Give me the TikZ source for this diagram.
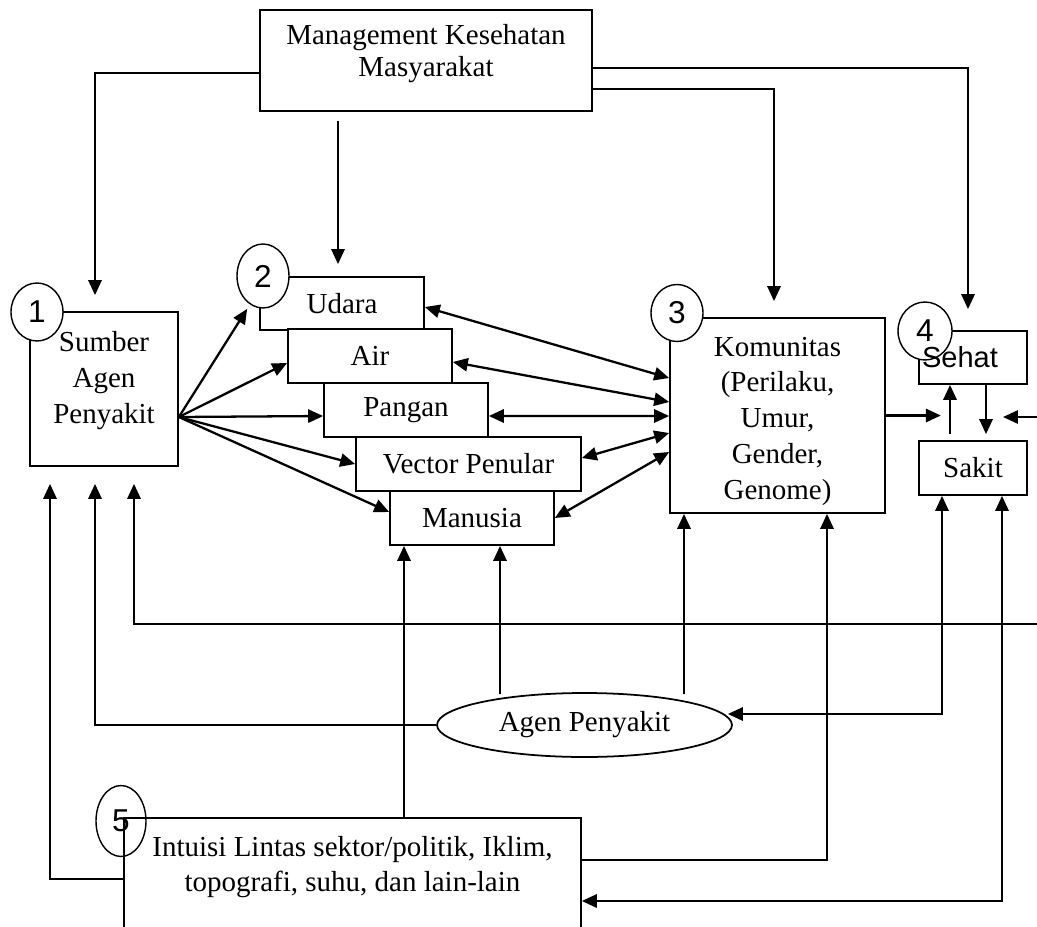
\documentclass[tikz,border=0pt]{standalone}
\usepackage{fontspec}
\setmainfont{Liberation Serif}
\newfontfamily\arialfont{Liberation Sans}
\usepackage{tikz}
\usetikzlibrary{arrows.meta,positioning,shapes.geometric,calc}
\definecolor{ink}{RGB}{0,0,0}

\begin{document}
\begin{tikzpicture}[x=0.02cm,y=-0.02cm,
    box/.style={draw=ink,line width=1pt,fill=white,inner sep=0pt,align=center,
      font=\fontsize{16.5}{20.4}\selectfont},
    numcirc/.style={ellipse,draw=ink,line width=0.8pt,fill=white,inner sep=0pt,
      font=\arialfont\fontsize{18}{20}\selectfont},
    arr/.style={draw=ink,line width=1.3pt,-{Triangle[length=8.5pt,width=7.5pt]}},
    darr/.style={arr,{Triangle[length=8.5pt,width=7.5pt]}-{Triangle[length=8.5pt,width=7.5pt]}}]
  \clip (0,0) rectangle (1037,926);

  % boxes
  \node[box,minimum width=6.64cm,minimum height=2.02cm,
    font=\fontsize{16.5}{18.7}\selectfont,text depth=0.4cm] (mgmt) at (426,60.5)
    {Management Kesehatan\\Masyarakat};
  \node[box,minimum width=2.96cm,minimum height=3.08cm,text depth=0.45cm] (sumber) at (104,389)
    {Sumber\\Agen\\Penyakit};
  \node[box,minimum width=3.28cm,minimum height=1.06cm] (udara) at (342,303.5) {Udara};
  \node[box,minimum width=3.28cm,minimum height=1.08cm] (air) at (370,356) {Air};
  \node[box,minimum width=3.28cm,minimum height=1.08cm] (pangan) at (406,410) {Pangan};
  \node[box,minimum width=4.5cm,minimum height=1.08cm] (vector) at (468.5,464) {Vector Penular};
  \node[box,minimum width=3.28cm,minimum height=1.08cm] (manusia) at (472,518) {Manusia};
  \node[box,minimum width=4.3cm,minimum height=3.9cm,text height=3.48cm] (kom) at (777.5,415.5)
    {Komunitas\\(Perilaku,\\Umur,\\Gender,\\Genome)};
  \node[box,minimum width=2.16cm,minimum height=1.06cm] (sehat) at (973,357.5) {};
  \node[box,minimum width=2.16cm,minimum height=1.08cm] (sakit) at (973,468) {Sakit};
  \node[box,ellipse,minimum width=5.9cm,minimum height=1.28cm] (agen) at (584.5,725) {Agen Penyakit};
  \node[box,anchor=north,minimum width=9.14cm,inner ysep=0.36cm,text depth=4cm] (intuisi) at (352.5,817)
    {Intuisi Lintas sektor/politik, Iklim,\\topografi, suhu, dan lain-lain};

  % numbers
  \node[numcirc,minimum width=1.04cm,minimum height=1.16cm] (c1) at (37,312) {1};
  \node[numcirc,minimum width=1.04cm,minimum height=1.28cm] (c2) at (263,276) {2};
  \node[numcirc,minimum width=1.04cm,minimum height=1.14cm] (c3) at (677,313) {3};
  \node[numcirc,minimum width=1.08cm,minimum height=1.16cm] (c4) at (925,331) {4};
  \node[numcirc,fill=none,minimum width=1.0cm,minimum height=1.42cm] (c5) at (121,821) {5};
  \node[inner sep=0pt,font=\arialfont\fontsize{16.5}{19}\selectfont] (sehattext) at (960,357) {Sehat};

  % from management
  \draw[arr] ($(mgmt.west)+(0,12.5)$) -| ($(sumber.north)+(-9,-16)$);
  \draw[arr] ($(udara.north |- mgmt.south)+(-4,9)$) -- ($(udara.north)+(-4,-12)$);
  \draw[arr] ($(mgmt.east)+(0,7.5)$) -| ($(sehat.north)+(-5,-21)$);
  \draw[arr] ($(mgmt.east)+(0,28.5)$) -| ($(kom.north)+(-3.5,-16)$);

  % fan out of sumber
  \coordinate (fan) at ($(sumber.east)+(0,28)$);
  \draw[arr] (fan) -- ($(udara.south west)+(-12,-22)$);
  \draw[arr] (fan) -- ($(air.west)+(0,7)$);
  \draw[arr] (fan) -- ($(pangan.west)+(0,6)$);
  \draw[arr] (fan) -- (vector.west);
  \draw[arr] (fan) -- ($(manusia.west)+(0,-6)$);

  % both ways with komunitas
  \draw[darr] ($(udara.east)+(0,3.5)$) -- ($(kom.west)+(0,-37.5)$);
  \draw[darr] ($(air.east)+(0,6)$) -- ($(kom.west)+(0,-13.5)$);
  \draw[darr] ($(pangan.east)+(0,6)$) -- ($(kom.west)+(0,0.5)$);
  \draw[darr] ($(vector.east)+(0,-6)$) -- ($(kom.west)+(0,17.5)$);
  \draw[darr] (manusia.east) -- ($(kom.west)+(0,36.5)$);

  % sehat / sakit
  \draw[arr] (kom.east) -- ($(kom.east)+(55,0)$);
  \draw[arr] ($(sakit.north)+(-23,-6)$) -- ($(sehat.south)+(-23,0)$);
  \draw[arr] ($(sehat.south)+(13,0)$) -- ($(sakit.north)+(13,-6)$);
  \coordinate (rin) at (1037,417);
  \draw[arr] (rin) -- ++(-34,0);

  % back into sumber
  \coordinate (rback) at (1037,624);
  \draw[arr] (rback) -| ($(sumber.south)+(30,17)$);
  \draw[arr] (agen.west) -| ($(sumber.south)+(-9,17)$);
  \draw[arr] ($(intuisi.north west)+(0,62)$) -| ($(sumber.south)+(-54,17)$);

  % into manusia and komunitas
  \coordinate (m1) at ($(manusia.south)+(-68,0)$);
  \coordinate (m2) at ($(manusia.south)+(28,0)$);
  \draw[arr] (m1 |- intuisi.north) -- (m1);
  \draw[arr] ($(m2 |- agen.north)+(0,2)$) -- (m2);
  \coordinate (k1) at ($(kom.south)+(-93.5,0)$);
  \coordinate (k2) at ($(kom.south)+(49.5,0)$);
  \draw[arr] ($(k1 |- agen.north)+(0,2)$) -- (k1);
  \draw[arr] ($(intuisi.north east)+(0,43)$) -| (k2);

  % out of sakit
  \coordinate (s1) at ($(sakit.south)+(-31,0)$);
  \coordinate (s2) at ($(sakit.south)+(29,0)$);
  \draw[darr] ($(agen.east)+(-5,-11)$) -| (s1);
  \draw[darr] ($(intuisi.north east)+(0,84)$) -| (s2);
\end{tikzpicture}
\end{document}
